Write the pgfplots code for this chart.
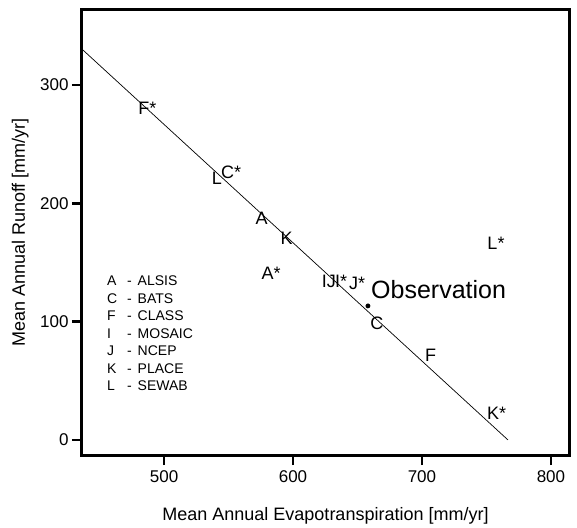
\documentclass[border=0pt]{standalone}
\usepackage{pgfplots}
\pgfplotsset{compat=1.18}
\usepackage{pgfplotstable}
\usepackage{fontspec}
\setmainfont{Liberation Sans}
\pgfplotstableread{
x y label
487 280.6 F*
541 221.2 L
552 226 C*
575.7 187.4 A
595.1 170.5 K
583 141 A*
624.3 134.4 I
629.8 134 J
637.3 134 I*
649.8 132 J*
665 98.6 C
706.7 71.9 F
757.9 22.6 K*
757.4 166.3 L*
}\models
\begin{document}
\begin{tikzpicture}
\useasboundingbox (-82pt,-72pt) rectangle (495pt,455pt);
\begin{axis}[
  scale only axis,
  width=487pt, height=445pt,
  xmin=436.4, xmax=814,
  ymin=-12.7, ymax=363.4,
  xtick={500,600,700,800},
  ytick={0,100,200,300},
  tick pos=left,
  tick align=outside,
  major tick length=10pt,
  every tick/.style={black, line width=2.6pt},
  major tick style={black, line width=2.6pt},
  axis line style={draw=none},
  /pgf/number format/assume math mode=true,
  ticklabel style={font=\fontsize{17}{20}\selectfont},
  xticklabel style={yshift=-2pt},
  xlabel={Mean Annual Evapotranspiration [mm/yr]},
  ylabel={Mean Annual Runoff [mm/yr]},
  every axis x label/.style={at={(axis description cs:0.5,-0.137)}, anchor=center, font=\fontsize{18}{21}\selectfont},
  every axis y label/.style={at={(axis description cs:-0.127,0.5)}, rotate=90, anchor=center, font=\fontsize{18}{21}\selectfont},
  clip=false,
]
\draw[black, line width=3pt, line join=miter] (rel axis cs:0,0) rectangle (rel axis cs:1,1);
\addplot[black, line width=0.7pt] coordinates {(436.4,330.3) (766.7,0)};
\addplot[only marks, mark=none,
  nodes near coords, point meta=explicit symbolic,
  every node near coord/.append style={anchor=center, inner sep=0pt, font=\fontsize{18}{21}\selectfont}]
  table[x=x, y=y, meta=label] {\models};
\addplot[only marks, mark=*, mark size=2.2pt, line width=0.4pt, black] coordinates {(658.1,113.3)};
\node[anchor=west, inner sep=0pt, font=\fontsize{25}{30}\selectfont] at (axis cs:660.5,127.4) {Observation};
\node[anchor=base west, inner sep=0pt, font=\fontsize{14}{17.5}\selectfont] at (axis cs:455.8,130.2) {%
\begin{tabular}[t]{@{}p{20pt}@{}p{10.5pt}@{}l@{}}
A & - & ALSIS\\
C & - & BATS\\
F & - & CLASS\\
I & - & MOSAIC\\
J & - & NCEP\\
K & - & PLACE\\
L & - & SEWAB
\end{tabular}};
\end{axis}
\end{tikzpicture}
\end{document}
